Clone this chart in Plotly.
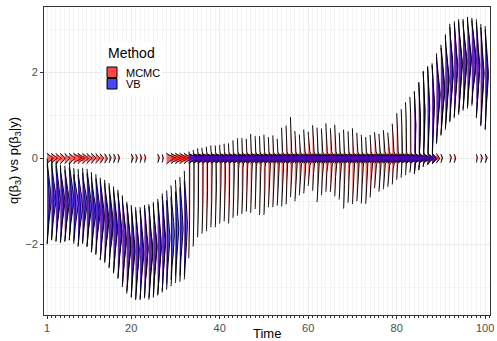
import numpy as np
import plotly.graph_objects as go

time = list(range(1, 101))

# MCMC posterior: spike weight at 0, slab mean, slab sd
mcmc_spike = [0.40,0.38,0.33,0.30,0.33,0.38,0.55,0.45,0.38,0.33,
              0.30,0.27,0.22,0.18,0.15,0.15,0.12,0.00,0.00,0.15,
              0.12,0.12,0.09,0.00,0.00,0.12,0.08,0.60,0.65,0.65,
              0.60,0.55,0.60,0.65,0.65,0.65,0.65,0.65,0.65,0.65,
              0.65,0.65,0.65,0.65,0.65,0.65,0.65,0.65,0.65,0.65,
              0.65,0.65,0.65,0.65,0.65,0.65,0.65,0.65,0.65,0.65,
              0.65,0.65,0.65,0.65,0.65,0.65,0.65,0.65,0.65,0.65,
              0.65,0.65,0.65,0.65,0.65,0.65,0.65,0.65,0.65,0.65,
              0.65,0.65,0.62,0.55,0.50,0.45,0.40,0.35,0.20,0.12,
              0.00,0.12,0.10,0.00,0.00,0.00,0.00,0.09,0.12,0.15]
mcmc_mean = [-1.05,-1.00,-1.05,-1.10,-1.10,-1.05,-1.15,-1.20,-1.15,-1.20,
             -1.30,-1.35,-1.45,-1.50,-1.60,-1.70,-1.80,-1.95,-2.10,-2.20,
             -2.25,-2.25,-2.20,-2.20,-2.15,-2.10,-2.00,-1.95,-1.85,-1.75,
             -1.70,-1.60,-1.10,-0.93,-0.80,-0.75,-0.71,-0.65,-0.65,-0.60,
             -0.56,-0.58,-0.48,-0.43,-0.41,-0.39,-0.35,-0.33,-0.40,-0.38,
             -0.32,-0.30,-0.32,-0.20,-0.15,0.03,-0.18,-0.15,-0.07,-0.01,
             0.01,-0.15,-0.08,0.02,-0.04,-0.05,-0.18,-0.25,-0.20,-0.18,
             -0.20,-0.25,-0.28,-0.18,-0.04,-0.10,-0.03,-0.03,0.10,0.28,
             0.35,0.46,0.55,0.60,0.75,0.92,1.00,1.08,1.35,1.55,
             1.75,1.95,2.03,2.10,2.15,2.20,2.22,2.05,1.90,1.83]
mcmc_sd = [0.38,0.36,0.35,0.34,0.33,0.34,0.33,0.34,0.33,0.34,
           0.35,0.35,0.36,0.36,0.37,0.38,0.39,0.40,0.40,0.41,
           0.41,0.41,0.41,0.42,0.42,0.43,0.44,0.45,0.46,0.47,
           0.48,0.50,0.60,0.56,0.50,0.48,0.47,0.45,0.45,0.43,
           0.42,0.44,0.42,0.42,0.41,0.39,0.43,0.39,0.43,0.44,
           0.37,0.38,0.35,0.43,0.43,0.44,0.37,0.31,0.33,0.27,
           0.34,0.40,0.35,0.36,0.33,0.38,0.35,0.43,0.38,0.41,
           0.36,0.36,0.35,0.32,0.28,0.29,0.30,0.27,0.31,0.35,
           0.36,0.39,0.40,0.43,0.45,0.48,0.48,0.46,0.40,0.40,
           0.42,0.44,0.43,0.42,0.40,0.40,0.38,0.44,0.46,0.47]

# VB approximation
vb_spike = [0.0]*32 + [1.0]*51 + [0.6,0.5,0.4,0.3,0.2] + [0.0]*12
vb_mean = [-1.00,-0.95,-1.00,-1.05,-1.05,-1.00,-1.10,-1.15,-1.10,-1.15,
           -1.25,-1.30,-1.40,-1.45,-1.55,-1.65,-1.75,-1.90,-2.05,-2.15,
           -2.20,-2.20,-2.15,-2.15,-2.10,-2.05,-1.95,-1.90,-1.80,-1.70,
           -1.65,-1.55] + [0.0]*51 + [0.60,0.75,0.92,1.00,1.08,
           1.40,1.60,1.80,2.00,2.08,2.15,2.20,2.25,2.27,2.10,1.95,1.88]
vb_sd = [0.38,0.36,0.35,0.34,0.33,0.34,0.33,0.34,0.33,0.34,
         0.35,0.35,0.36,0.36,0.37,0.38,0.39,0.40,0.40,0.41,
         0.41,0.41,0.41,0.42,0.42,0.43,0.44,0.45,0.46,0.47,
         0.48,0.50] + [0.30]*51 + [0.43,0.45,0.48,0.48,0.46,
         0.40,0.40,0.42,0.44,0.43,0.42,0.40,0.40,0.38,0.44,0.46,0.47]
spike_sd = {"MCMC": 0.045, "VB": 0.035}

methods = ["MCMC", "VB"]
fills = {"MCMC": "rgba(255,0,0,0.6)", "VB": "rgba(0,0,255,0.6)"}
key_fills = {"MCMC": "rgba(255,0,0,0.72)", "VB": "rgba(0,0,255,0.72)"}
params = {"MCMC": (mcmc_spike, mcmc_mean, mcmc_sd),
          "VB": (vb_spike, vb_mean, vb_sd)}
for k_, (a, b, c) in params.items():
    assert len(a) == len(b) == len(c) == 100, k_

SPIKE_SCALE = 0.4
SLAB_SCALE = 0.9
EPS = 0.03
ygrid = np.arange(-3.7, 3.6, 0.005)


def npdf(y, m, s):
    return np.exp(-0.5 * ((y - m) / s) ** 2) / (s * np.sqrt(2 * np.pi))


def shapes_for(t, p, m, s, s0):
    w = SPIKE_SCALE * p * npdf(ygrid, 0.0, s0) \
        + SLAB_SCALE * (1 - p) * npdf(ygrid, m, s)
    mask = w > EPS
    fx, fy = [], []
    idx = np.where(mask)[0]
    if len(idx) == 0:
        return fx, fy
    splits = np.where(np.diff(idx) > 1)[0] + 1
    for run in np.split(idx, splits):
        yy = ygrid[run]
        xx = t + w[run]
        fx += [t] + list(xx) + [t, None]
        fy += [yy[0]] + list(yy) + [yy[-1], None]
    return fx, fy


fig = go.Figure()
for i, t in enumerate(time):
    for meth in methods:
        sp, mn, sd = params[meth]
        fx, fy = shapes_for(t, sp[i], mn[i], sd[i], spike_sd[meth])
        if not fx:
            continue
        fig.add_trace(go.Scatter(x=fx, y=fy, mode="lines", fill="toself",
                                 fillcolor=fills[meth], line=dict(width=0),
                                 hoverinfo="skip", showlegend=False))
        fig.add_trace(go.Scatter(x=fx, y=fy, mode="lines",
                                 line=dict(color="black", width=0.95),
                                 hoverinfo="skip", showlegend=False))

L, R, T, B = 44, 490, 7, 315
W, H = 497, 341


def px(x):
    return (x - L) / (R - L)


def py(y):
    return (B - y) / (B - T)


shapes = [
    dict(type="rect", xref="paper", yref="paper", x0=px(103), x1=px(163),
         y0=py(95), y1=py(42), fillcolor="white", line=dict(width=0), layer="above"),
    dict(type="rect", xref="paper", yref="paper", x0=px(107), x1=px(117),
         y0=py(77.5), y1=py(67), fillcolor=key_fills["MCMC"],
         line=dict(color="black", width=1), layer="above"),
    dict(type="rect", xref="paper", yref="paper", x0=px(107), x1=px(117),
         y0=py(89), y1=py(78.5), fillcolor=key_fills["VB"],
         line=dict(color="black", width=1), layer="above"),
]
font = "Liberation Sans, Arial, Helvetica, sans-serif"
annotations = [
    dict(text="Method", xref="paper", yref="paper", x=px(106), y=py(53),
         xanchor="left", yanchor="middle", showarrow=False,
         font=dict(family=font, size=14, color="black")),
    dict(text="MCMC", xref="paper", yref="paper", x=px(124), y=py(72.5),
         xanchor="left", yanchor="middle", showarrow=False,
         font=dict(family=font, size=11, color="black")),
    dict(text="VB", xref="paper", yref="paper", x=px(124), y=py(84),
         xanchor="left", yanchor="middle", showarrow=False,
         font=dict(family=font, size=11, color="black")),
    dict(text="Time", xref="paper", yref="paper", x=px(267), y=py(333),
         xanchor="center", yanchor="middle", showarrow=False,
         font=dict(family=font, size=13, color="black")),
    dict(text="q(\u03b2<sub>3</sub>) vs p(\u03b2<sub>3</sub>|y)",
         xref="paper", yref="paper", x=px(14), y=py(161), textangle=-90,
         xanchor="center", yanchor="middle", showarrow=False,
         font=dict(family=font, size=13, color="black")),
]

fig.update_layout(
    width=W, height=H,
    margin=dict(l=L, r=W - R, t=T, b=H - B, autoexpand=False),
    paper_bgcolor="white", plot_bgcolor="white",
    showlegend=False, hovermode=False,
    shapes=shapes, annotations=annotations,
    font=dict(family=font, size=11, color="#4D4D4D"),
    xaxis=dict(range=[0.3, 101.1], tickvals=[1, 20, 40, 60, 80, 100],
               ticks="outside", ticklen=3, tickcolor="#333333",
               showgrid=True, gridcolor="#EBEBEB", gridwidth=0.6,
               zeroline=False, showline=True, linecolor="#333333",
               linewidth=1, mirror=True, automargin=False,
               tickfont=dict(size=11, color="#4D4D4D"),
               minor=dict(dtick=1, tick0=0, ticks="outside", ticklen=2,
                          tickcolor="#333333", showgrid=True,
                          gridcolor="#EBEBEB", gridwidth=0.6)),
    yaxis=dict(range=[-3.64, 3.52], tickvals=[-2, 0, 2],
               ticktext=["\u22122", "0", "2"],
               ticks="outside", ticklen=3, tickcolor="#333333",
               showgrid=True, gridcolor="#EBEBEB", gridwidth=1,
               zeroline=False, showline=True, linecolor="#333333",
               linewidth=1, mirror=True, automargin=False,
               tickfont=dict(size=11, color="#4D4D4D"),
               minor=dict(tickvals=[-3, -1, 1, 3], ticks="", showgrid=True,
                          gridcolor="#EBEBEB", gridwidth=0.5)),
)

fig.write_html("out.html", config={"displayModeBar": False, "staticPlot": True},
               post_script="document.body.style.margin='0';"
                           "document.body.style.overflow='hidden';")
